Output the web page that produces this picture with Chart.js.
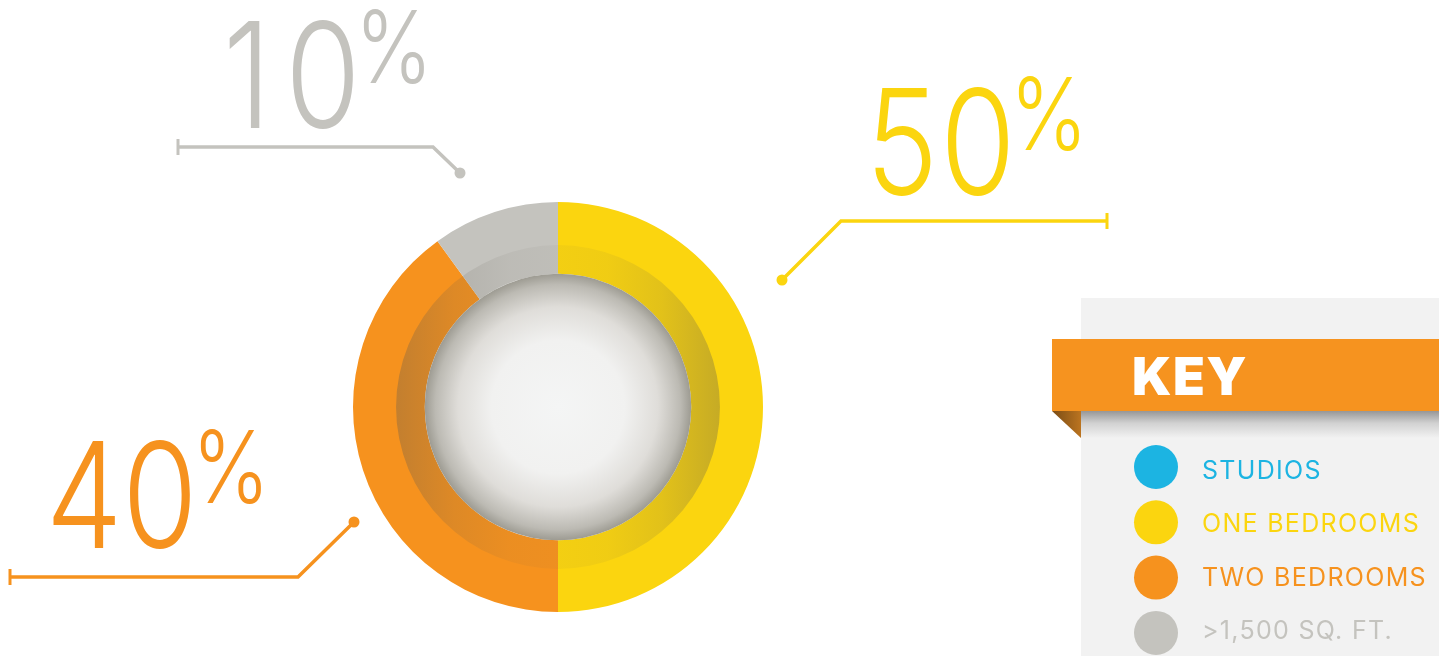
<!DOCTYPE html>
<html lang="en">
<head>
    <meta charset="utf-8"/>
    <title>Unit mix</title>
    <style>
        * {
          padding: 0;
          margin: 0;
          box-sizing: border-box;
        }

        body {
            background: #ffffff;
            overflow: hidden;
        }

        .chart-box {
            position: relative;
            width: 1439px;
            height: 656px;
        }
    </style>
</head>
<body>
    <div class="chart-box">
        <canvas id="unit-mix"></canvas>
    </div>
    <script src="https://cdn.jsdelivr.net/npm/chart.js@4.4.0/dist/chart.umd.min.js"></script>
    <script>
        const categories = ["STUDIOS", "ONE BEDROOMS", "TWO BEDROOMS", ">1,500 SQ. FT."];
        const shares = [0, 50, 40, 10];
        const colors = ["#1cb4e2", "#fbd50f", "#f6921e", "#c4c3be"];

        // leader line + big number for each slice, offsets from the donut centre
        // (text = centre of the first digit, on the baseline)
        const callouts = {
            1: { dot: [224, -127], elbow: [283, -186], end: [549, -186], text: [344, -212] },
            2: { dot: [-204, 115], elbow: [-260, 170], end: [-548, 170], text: [-474, 141] },
            3: { dot: [-98, -234], elbow: [-125, -260], end: [-380, -260], text: [-311, -279] }
        };

        const bigFont = "300 147px Inter, 'Open Sans', sans-serif";
        const pctFont = "300 100px Inter, 'Open Sans', sans-serif";
        const squeeze = 0.83;
        const digitStep = 76; // fixed width figures

        // shaded inner band + the glossy hole in the middle
        const donutDecor = {
            id: "donutDecor",
            afterDatasetsDraw(chart) {
                const arc = chart.getDatasetMeta(0).data[0];
                const ctx = chart.ctx;
                const cx = arc.x, cy = arc.y;
                const rIn = arc.innerRadius;
                const rBand = rIn + (arc.outerRadius - rIn) * 0.4;

                ctx.save();
                const shade = ctx.createLinearGradient(cx - rBand, 0, cx + rBand, 0);
                shade.addColorStop(0, "rgba(95, 90, 80, 0.34)");
                shade.addColorStop(0.18, "rgba(95, 90, 80, 0.16)");
                shade.addColorStop(0.35, "rgba(95, 90, 80, 0.07)");
                shade.addColorStop(0.5, "rgba(95, 90, 80, 0.05)");
                shade.addColorStop(0.65, "rgba(95, 90, 80, 0.07)");
                shade.addColorStop(0.82, "rgba(95, 90, 80, 0.16)");
                shade.addColorStop(1, "rgba(95, 90, 80, 0.34)");
                ctx.beginPath();
                ctx.arc(cx, cy, rBand, 0, Math.PI * 2);
                ctx.arc(cx, cy, rIn, 0, Math.PI * 2, true);
                ctx.fillStyle = shade;
                ctx.fill();

                const glow = ctx.createRadialGradient(cx, cy, 0, cx, cy, rIn);
                glow.addColorStop(0, "#f4f5f5");
                glow.addColorStop(0.5, "#f1f1f0");
                glow.addColorStop(0.75, "#dfddd9");
                glow.addColorStop(0.92, "#bcbab3");
                glow.addColorStop(1, "#9d9b92");
                ctx.beginPath();
                ctx.arc(cx, cy, rIn, 0, Math.PI * 2);
                ctx.fillStyle = glow;
                ctx.fill();
                ctx.restore();
            }
        };

        const calloutLabels = {
            id: "calloutLabels",
            afterDraw(chart) {
                const arc = chart.getDatasetMeta(0).data[0];
                const ctx = chart.ctx;
                const cx = arc.x, cy = arc.y;

                shares.forEach((value, i) => {
                    const c = callouts[i];
                    if (!c || value <= 0) return;
                    ctx.save();
                    ctx.strokeStyle = colors[i];
                    ctx.fillStyle = colors[i];
                    ctx.lineWidth = 3.5;

                    ctx.beginPath();
                    ctx.moveTo(cx + c.dot[0], cy + c.dot[1]);
                    ctx.lineTo(cx + c.elbow[0], cy + c.elbow[1]);
                    ctx.lineTo(cx + c.end[0], cy + c.end[1]);
                    ctx.stroke();

                    ctx.lineWidth = 3;
                    ctx.beginPath();
                    ctx.moveTo(cx + c.end[0], cy + c.end[1] - 8);
                    ctx.lineTo(cx + c.end[0], cy + c.end[1] + 8);
                    ctx.stroke();

                    ctx.beginPath();
                    ctx.arc(cx + c.dot[0], cy + c.dot[1], 5.5, 0, Math.PI * 2);
                    ctx.fill();

                    // number digit by digit, then a raised percent sign
                    const digits = String(value).split("");
                    ctx.translate(cx + c.text[0], cy + c.text[1]);
                    ctx.scale(squeeze, 1);
                    ctx.font = bigFont;
                    ctx.textAlign = "center";
                    ctx.textBaseline = "alphabetic";
                    let right = 0;
                    digits.forEach((d, k) => {
                        const x = k * digitStep / squeeze;
                        ctx.fillText(d, x, 0);
                        right = x + ctx.measureText(d).actualBoundingBoxRight;
                    });
                    ctx.font = pctFont;
                    ctx.textAlign = "left";
                    const p = ctx.measureText("%");
                    ctx.fillText("%", right + 10 / squeeze + p.actualBoundingBoxLeft, -45);
                    ctx.restore();
                });
            }
        };

        const keyPanel = {
            id: "keyPanel",
            afterDraw(chart) {
                const ctx = chart.ctx;
                ctx.save();

                ctx.fillStyle = "#f2f2f2";
                ctx.fillRect(1081, 298, 358, 358);

                // drop shadow under the ribbon
                const sh = ctx.createLinearGradient(0, 411, 0, 438);
                sh.addColorStop(0, "rgba(60, 60, 60, 0.5)");
                sh.addColorStop(0.45, "rgba(60, 60, 60, 0.18)");
                sh.addColorStop(1, "rgba(60, 60, 60, 0)");
                ctx.fillStyle = sh;
                ctx.fillRect(1081, 411, 358, 27);

                ctx.fillStyle = "#f6931f";
                ctx.fillRect(1052, 339, 387, 72);

                // folded corner
                const fold = ctx.createLinearGradient(1052, 0, 1081, 0);
                fold.addColorStop(0, "#7a4c15");
                fold.addColorStop(1, "#bb7420");
                ctx.beginPath();
                ctx.moveTo(1052, 411);
                ctx.lineTo(1081, 411);
                ctx.lineTo(1081, 438);
                ctx.closePath();
                ctx.fillStyle = fold;
                ctx.fill();

                ctx.fillStyle = "#ffffff";
                ctx.font = "900 52px Inter, 'Open Sans', sans-serif";
                ctx.letterSpacing = "1.5px";
                ctx.textBaseline = "alphabetic";
                ctx.fillText("KEY", 1132, 395);

                ctx.font = "400 25px Inter, 'Open Sans', sans-serif";
                ctx.letterSpacing = "1.3px";
                categories.forEach((name, i) => {
                    ctx.fillStyle = colors[i];
                    ctx.beginPath();
                    ctx.arc(1156, 467 + i * 55.3, 22, 0, Math.PI * 2);
                    ctx.fill();
                    ctx.fillText(name, 1202, 479 + i * 53.4);
                });
                ctx.restore();
            }
        };

        const context = document.getElementById("unit-mix").getContext("2d");
        const donut = new Chart(context, {
            type: "doughnut",
            data: {
                labels: categories,
                datasets: [{
                    data: shares,
                    backgroundColor: colors,
                    borderWidth: 0,
                    hoverOffset: 0
                }]
            },
            options: {
                responsive: true,
                maintainAspectRatio: false,
                animation: false,
                rotation: 0,
                cutout: "65%",
                layout: {
                    padding: { left: 353, right: 676, top: 202, bottom: 44 }
                },
                plugins: {
                    legend: { display: false },
                    tooltip: { enabled: false }
                }
            },
            plugins: [donutDecor, calloutLabels, keyPanel]
        });
    </script>
</body>
</html>
